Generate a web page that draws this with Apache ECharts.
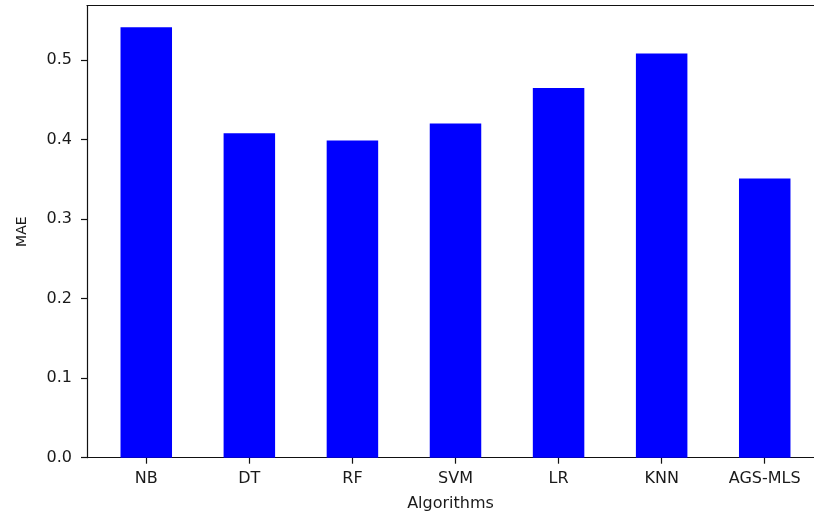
<!DOCTYPE html>
<html>
<head>
<meta charset="utf-8">
<script src="https://cdn.jsdelivr.net/npm/echarts@6/dist/echarts.min.js"></script>
<style>
  html, body { margin: 0; padding: 0; background: #fff; }
  #chart { width: 814px; height: 513px; }
</style>
</head>
<body>
<div id="chart"></div>
<script>
// Mean absolute error per algorithm
const categories = ['NB', 'DT', 'RF', 'SVM', 'LR', 'KNN', 'AGS-MLS'];
const maeValues = [0.5415, 0.408, 0.399, 0.4205, 0.465, 0.5085, 0.3512];
const yTicks = [0.0, 0.1, 0.2, 0.3, 0.4, 0.5];

const positions = categories.map((_, i) => i);
const yMax = Math.max(...maeValues) * 1.05;

const chart = echarts.init(document.getElementById('chart'), null, { renderer: 'canvas' });
const font = 'DejaVu Sans';
const ink = '#1a1a1a';
const spine = { color: '#111', width: 1.2 };

// x range: the right spine falls just beyond the visible canvas
const xMin = -0.575;
const xMax = 6.478;

chart.setOption({
  animation: false,
  backgroundColor: '#ffffff',
  grid: { left: 87, top: 5.7, right: 0, bottom: 55.3, containLabel: false, outerBoundsMode: 'none' },
  xAxis: [
    {
      type: 'value',
      min: xMin,
      max: xMax,
      name: 'Algorithms',
      nameLocation: 'middle',
      nameGap: 38,
      nameTextStyle: { fontFamily: font, fontSize: 16, color: ink, verticalAlign: 'top' },
      axisLine: { show: true, onZero: false, lineStyle: spine },
      axisTick: { show: true, length: 6, customValues: positions, lineStyle: spine },
      axisLabel: {
        customValues: positions,
        margin: 13,
        fontFamily: font, fontSize: 16, color: ink,
        formatter: v => categories[Math.round(v)] || ''
      },
      splitLine: { show: false }
    },
    {
      type: 'value',
      position: 'top',
      min: xMin,
      max: xMax,
      axisLine: { show: true, onZero: false, lineStyle: spine },
      axisTick: { show: false },
      axisLabel: { show: false },
      splitLine: { show: false }
    }
  ],
  yAxis: {
    type: 'value',
    min: 0,
    max: yMax,
    name: 'MAE',
    nameLocation: 'middle',
    nameGap: 58,
    nameTextStyle: { fontFamily: font, fontSize: 14, color: ink },
    axisLine: { show: true, onZero: false, lineStyle: spine },
    axisTick: { show: true, length: 6, customValues: yTicks, lineStyle: spine },
    axisLabel: {
      customValues: yTicks,
      margin: 15,
      fontFamily: font, fontSize: 16, color: ink,
      formatter: v => v.toFixed(1)
    },
    splitLine: { show: false }
  },
  series: [{
    type: 'bar',
    xAxisIndex: 0,
    barWidth: 51.5,
    itemStyle: { color: '#0000ff' },
    data: positions.map(i => [i, maeValues[i]])
  }]
});
</script>
</body>
</html>
